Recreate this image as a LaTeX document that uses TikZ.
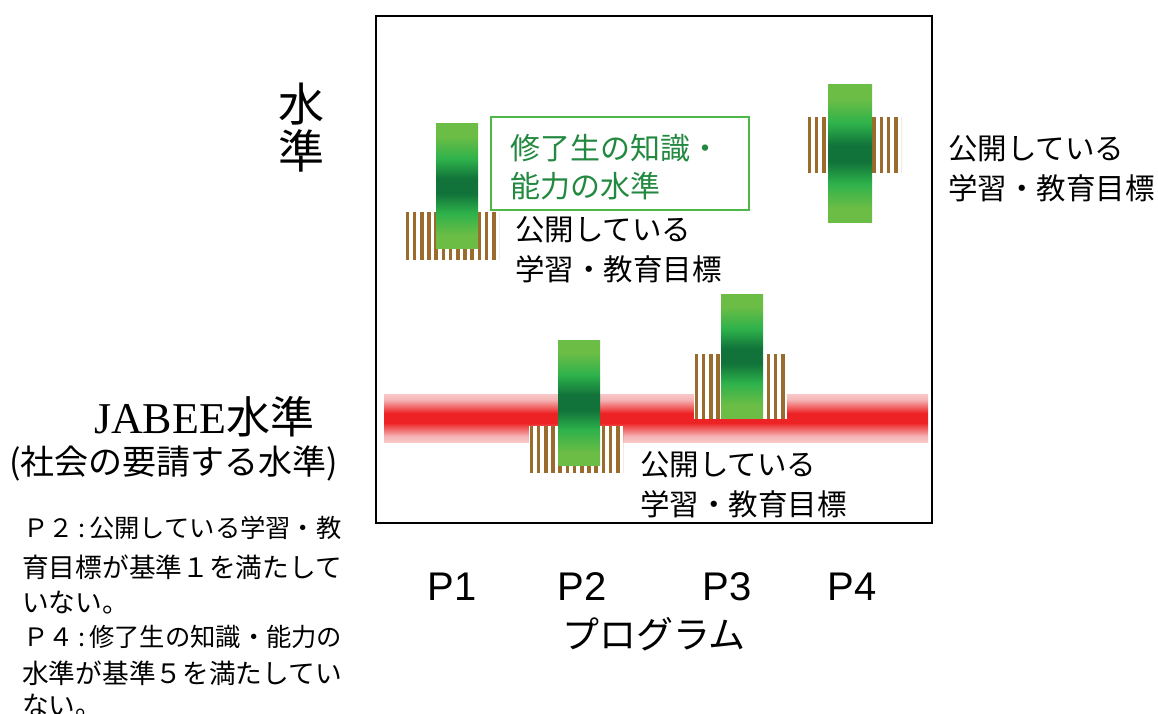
\documentclass[tikz,border=0pt]{standalone}
\usepackage{fontspec}
\setmainfont{Liberation Serif}
\newfontfamily\jp{Noto Sans CJK JP}
\newfontfamily\arialf{Liberation Sans}
\definecolor{lg}{RGB}{108,189,69}
\definecolor{mg}{RGB}{46,178,75}
\definecolor{dg}{RGB}{17,115,58}
\definecolor{pinkb}{RGB}{248,200,201}
\definecolor{pinkm}{RGB}{245,180,181}
\definecolor{redb}{RGB}{237,34,36}
\definecolor{brownst}{RGB}{155,106,45}
\definecolor{boxgreen}{RGB}{77,184,72}
\definecolor{txtgreen}{RGB}{35,137,64}
\pgfdeclareverticalshading{greenbar}{100bp}{color(0bp)=(lg); color(30bp)=(lg); color(39bp)=(mg); color(47bp)=(dg); color(53bp)=(dg); color(61bp)=(mg); color(70bp)=(lg); color(100bp)=(lg)}
\pgfdeclareverticalshading{redband}{100bp}{color(0bp)=(pinkb); color(25bp)=(pinkb); color(31bp)=(pinkm); color(45bp)=(redb); color(55bp)=(redb); color(69bp)=(pinkm); color(75bp)=(pinkb); color(100bp)=(pinkb)}
\newcommand{\stripebox}[4]{%
  \fill[white] (#1,#2) rectangle (#3,#4);
  \begin{scope}
    \clip (#1,#2) rectangle (#3,#4);
    \foreach \k in {0,...,14} {\fill[brownst] ({#1+0.5+\k*7.2},#2) rectangle ({#1+4.2+\k*7.2},#4);}
  \end{scope}}
\begin{document}
\begin{tikzpicture}[x=1pt,y=-1pt,
  lbl/.style={font=\jp\fontsize{29.5}{30}\selectfont, inner sep=0pt, anchor=west},
  glbl/.style={font=\jp\fontsize{30}{30}\selectfont, inner sep=0pt, anchor=west, text=txtgreen},
  para/.style={font=\jp\fontsize{26.7}{27}\selectfont, inner sep=0pt, anchor=west},
  parahead/.style={font=\jp\fontsize{25.3}{26}\selectfont, inner sep=0pt, anchor=west},
  plab/.style={font=\arialf\fontsize{40}{40}\selectfont, inner sep=0pt},
  bigjp/.style={font=\jp\fontsize{46}{46}\selectfont, inner sep=0pt},
  goalbox/.style={draw=boxgreen, line width=2pt, inner sep=0pt, anchor=north west,
    minimum width=258pt, minimum height=93pt}]
\useasboundingbox (0,0) rectangle (1158,714);
% red band (JABEE level)
\shade[shading=redband] (384,394) rectangle (928,442);
% striped boxes
\stripebox{405}{212}{499}{260}
\stripebox{807}{117}{901}{173}
\stripebox{529}{426}{623}{473}
\stripebox{694}{354}{787}{419}
% green bars
\shade[shading=greenbar] (436,124) rectangle (478,248);
\shade[shading=greenbar] (828,85) rectangle (872,222);
\shade[shading=greenbar] (558,340) rectangle (600,465);
\shade[shading=greenbar] (721,294) rectangle (763,418);
% frame
\draw[line width=2pt] (376,16) rectangle (932,523);
% green box
\node[goalbox] (goal) at (490,116) {};
\node[glbl] (g1) at (510,148) {修了生の知識・};
\node[glbl] (g2) at (510,186) {能力の水準};
% labels
\node[lbl] (l1a) at (515,230) {公開している};
\node[lbl] (l1b) at (515,269) {学習・教育目標};
\node[lbl] (l4a) at (948,149) {公開している};
\node[lbl] (l4b) at (948,188) {学習・教育目標};
\node[lbl] (l2a) at (640,465) {公開している};
\node[lbl] (l2b) at (640,504) {学習・教育目標};
% axis labels
\node[bigjp] (ax1) at (301,104) {水};
\node[bigjp] (ax2) at (301,151) {準};
\node[plab] (p1) at (452,587) {P1};
\node[plab] (p2) at (582,587) {P2};
\node[plab] (p3) at (727,587) {P3};
\node[plab] (p4) at (852,587) {P4};
\node[font=\jp\fontsize{37}{37}\selectfont, inner sep=0pt] (prog) at (654,634) {プログラム};
% JABEE
\node[inner sep=0pt] (jabee) at (204,417) {\fontsize{44}{44}\selectfont JABEE{\jp 水準}};
\node[font=\jp\fontsize{34}{34}\selectfont, inner sep=0pt, anchor=west] (soc) at (9,463) {(社会の要請する水準)};
% notes
\node[parahead] (n1) at (23,528) {Ｐ２\,:\,公開している学習・教};
\node[para] (n2) at (22,567) {育目標が基準１を満たして};
\node[para] (n3) at (22,603) {いない。};
\node[parahead] (n4) at (23,637) {Ｐ４\,:\,修了生の知識・能力の};
\node[para] (n5) at (22,673) {水準が基準５を満たしてい};
\node[para] (n6) at (22,706) {ない。};
\end{tikzpicture}
\end{document}
